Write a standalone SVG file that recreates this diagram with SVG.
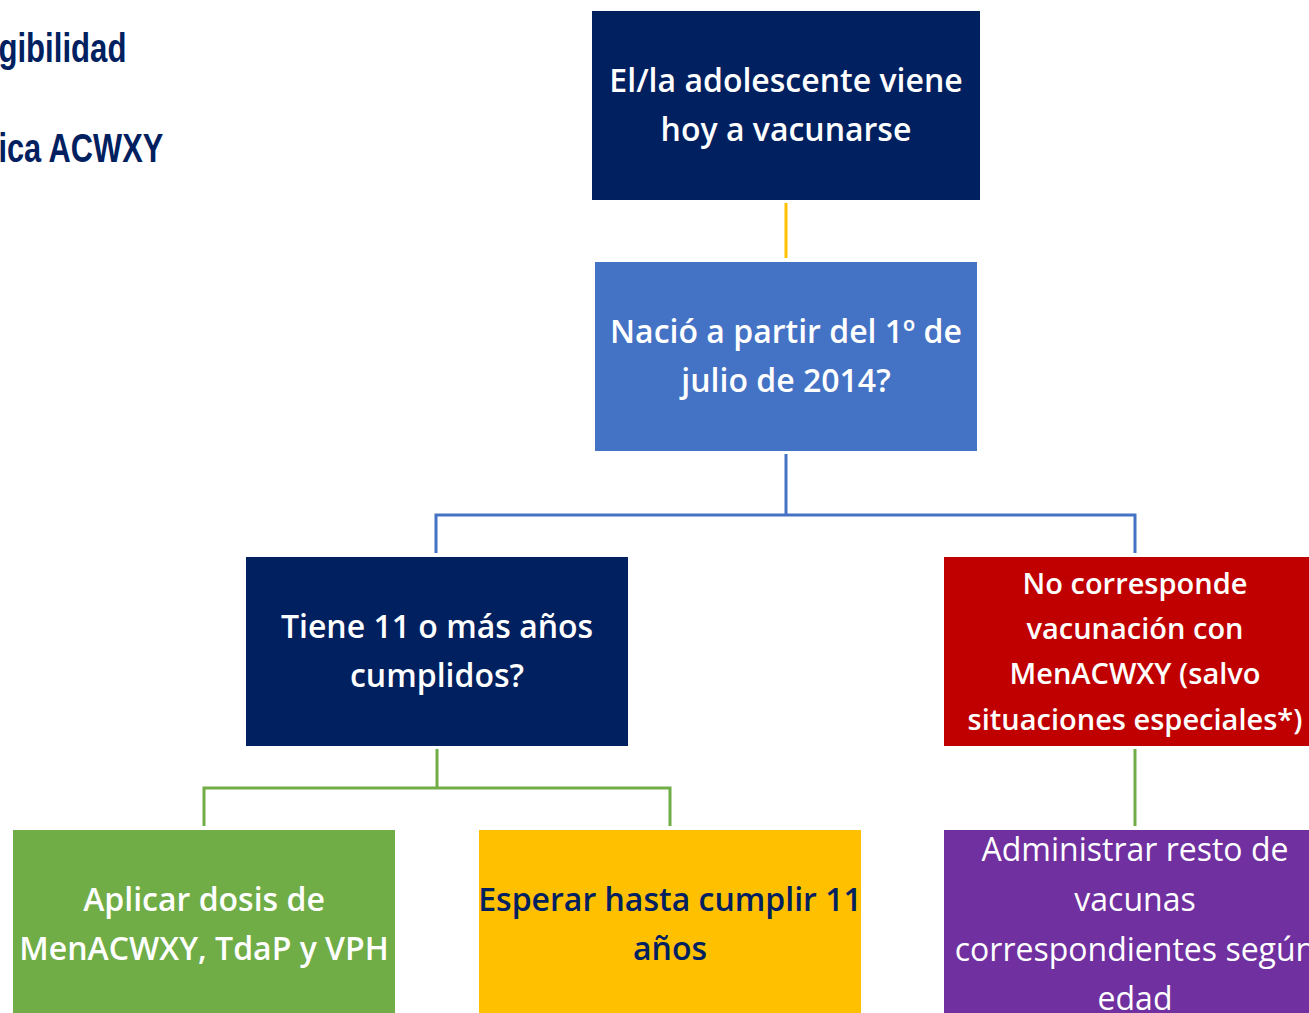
<svg xmlns="http://www.w3.org/2000/svg" width="1309" height="1013" viewBox="0 0 1309 1013">
<style>
.t{font-family:"Open Sans","Noto Sans","Liberation Sans",sans-serif;font-weight:600;font-size:32px;text-anchor:middle;fill:#fff}
.r{font-size:29px}
.l{font-weight:400;font-size:32px}
.title{font-family:"Liberation Sans",Arial,sans-serif;font-weight:700;font-size:40px;fill:#002060}
.c{fill:none;stroke-width:3}
</style>
<rect width="1309" height="1013" fill="#fff"/>
<g id="title">
<text class="title" x="-2" y="62" transform="scale(0.8 1)" textLength="160" lengthAdjust="spacingAndGlyphs">gibilidad</text>
<text class="title" x="-2" y="162" transform="scale(0.8 1)" textLength="206" lengthAdjust="spacingAndGlyphs">ica ACWXY</text>
</g>
<g id="connectors">
<path class="c" stroke="#FFC000" d="M786 203V258"/>
<path class="c" stroke="#4472C4" d="M786 454V515M436 553V515H1135V553"/>
<path class="c" stroke="#70AD47" d="M437 749V788M204 826V788H670V826"/>
<path class="c" stroke="#70AD47" d="M1135 749V826"/>
</g>
<g id="n1"><rect x="592" y="11" width="388" height="189" fill="#002060"/>
<text class="t"><tspan x="786" y="92">El/la adolescente viene</tspan><tspan x="786" y="141">hoy a vacunarse</tspan></text></g>
<g id="n2"><rect x="595" y="262" width="382" height="189" fill="#4472C4"/>
<text class="t"><tspan x="786" y="343">Nació a partir del 1º de</tspan><tspan x="786" y="392">julio de 2014?</tspan></text></g>
<g id="n3"><rect x="246" y="557" width="382" height="189" fill="#002060"/>
<text class="t"><tspan x="437" y="638">Tiene 11 o más años</tspan><tspan x="437" y="687">cumplidos?</tspan></text></g>
<g id="n4"><rect x="944" y="557" width="370" height="189" fill="#C00000"/>
<text class="t r"><tspan x="1135" y="594">No corresponde</tspan><tspan x="1135" y="639">vacunación con</tspan><tspan x="1135" y="684">MenACWXY (salvo</tspan><tspan x="1135" y="730">situaciones especiales*)</tspan></text></g>
<g id="n5"><rect x="13" y="830" width="382" height="190" fill="#70AD47"/>
<text class="t"><tspan x="204" y="911">Aplicar dosis de</tspan><tspan x="204" y="960">MenACWXY, TdaP y VPH</tspan></text></g>
<g id="n6"><rect x="479" y="830" width="382" height="190" fill="#FFC000"/>
<text class="t" style="fill:#002060"><tspan x="670" y="911">Esperar hasta cumplir 11</tspan><tspan x="670" y="960">años</tspan></text></g>
<g id="n7"><rect x="944" y="830" width="370" height="190" fill="#7030A0"/>
<text class="t l"><tspan x="1135" y="861">Administrar resto de</tspan><tspan x="1135" y="911">vacunas</tspan><tspan x="1135" y="961">correspondientes según</tspan><tspan x="1135" y="1010">edad</tspan></text></g>
</svg>
